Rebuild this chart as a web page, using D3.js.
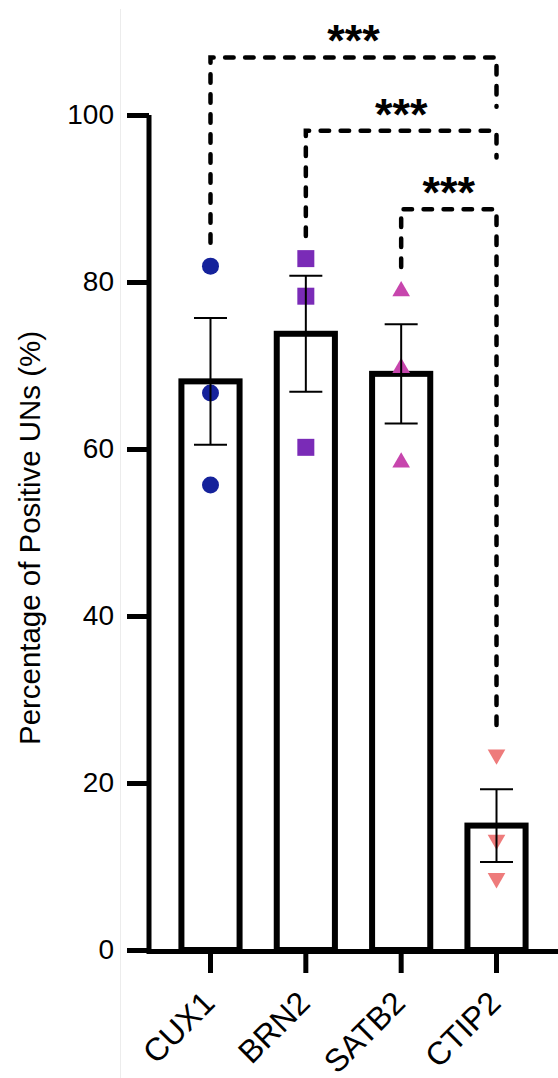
<!DOCTYPE html>
<html>
<head>
<meta charset="utf-8">
<script src="https://cdn.jsdelivr.net/npm/d3@7"></script>
<style>
  body { margin: 0; background: #fff; }
  text { font-family: "Liberation Sans", Arial, sans-serif; }
</style>
</head>
<body>
<div id="chart"></div>
<script>
// values
var groups = ["CUX1", "BRN2", "SATB2", "CTIP2"];
var means = [68.1, 73.8, 69.0, 14.9];
var sems = [7.6, 6.95, 5.95, 4.35];
var cux1Pts = [81.9, 66.7, 55.7];
var brn2Pts = [82.8, 78.3, 60.2];
var satb2Pts = [78.9, 69.7, 58.4];
var ctip2Pts = [23.4, 13.2, 8.6];
var yTicks = [0, 20, 40, 60, 80, 100];

// significance brackets
var bracketFrom = ["CUX1", "BRN2", "SATB2"];
var bracketTo = ["CTIP2", "CTIP2", "CTIP2"];
var bracketLevel = [106.9, 98.1, 88.7];
var bracketLeftEnd = [84.7, 85.5, 81.8];
var bracketRightEnd = [101, 94.9, 26.1];
var bracketLabels = ["***", "***", "***"];

var W = 558, H = 1078;
var pts = [cux1Pts, brn2Pts, satb2Pts, ctip2Pts];
var colors = ["#15229b", "#7a2bb7", "#c745ad", "#ee7b7b"];
var shapes = [d3.symbolCircle, d3.symbolSquare, d3.symbolTriangle, d3.symbolTriangle];
var sizes = [227, 289, 135, 135];
var rot = [0, 0, 0, 180];

var svg = d3.select("#chart").append("svg")
  .attr("width", W).attr("height", H);

svg.append("rect").attr("width", W).attr("height", H).attr("fill", "#fff");

// faint frame line on the left
svg.append("line")
  .attr("x1", 120.5).attr("x2", 120.5).attr("y1", 9).attr("y2", H)
  .attr("stroke", "#ececec").attr("stroke-width", 1);

var y = d3.scaleLinear().domain([0, 100]).range([950, 115]);
var x = d3.scaleBand().domain(groups).range([149, 558])
  .paddingInner(0.39).paddingOuter(0.34);
var cx = function(g) { return x(g) + x.bandwidth() / 2; };

// bars
svg.selectAll(".bar").data(groups).enter().append("rect")
  .attr("class", "bar")
  .attr("x", function(d) { return x(d); })
  .attr("y", function(d, i) { return y(means[i]); })
  .attr("width", x.bandwidth())
  .attr("height", function(d, i) { return y(0) - y(means[i]); })
  .attr("fill", "#fff")
  .attr("stroke", "#000")
  .attr("stroke-width", 6);

// points
groups.forEach(function(g, i) {
  svg.selectAll(".pt" + i).data(pts[i]).enter().append("path")
    .attr("class", "pt" + i)
    .attr("d", d3.symbol().type(shapes[i]).size(sizes[i]))
    .attr("transform", function(v) {
      return "translate(" + cx(g) + "," + y(v) + ") rotate(" + rot[i] + ")";
    })
    .attr("fill", colors[i]);
});

// error bars (SEM)
var eb = svg.selectAll(".eb").data(groups).enter().append("g")
  .attr("class", "eb")
  .attr("stroke", "#000").attr("stroke-width", 2);
eb.append("line")
  .attr("x1", cx).attr("x2", cx)
  .attr("y1", function(d, i) { return y(means[i] + sems[i]); })
  .attr("y2", function(d, i) { return y(means[i] - sems[i]); });
[1, -1].forEach(function(s) {
  eb.append("line")
    .attr("x1", function(d) { return cx(d) - 16.5; })
    .attr("x2", function(d) { return cx(d) + 16.5; })
    .attr("y1", function(d, i) { return y(means[i] + s * sems[i]); })
    .attr("y2", function(d, i) { return y(means[i] + s * sems[i]); });
});

// y axis
var yAxis = svg.append("g")
  .attr("transform", "translate(149,0)")
  .call(d3.axisLeft(y).tickValues(yTicks).tickSize(22).tickSizeOuter(0).tickPadding(13));
yAxis.select(".domain").attr("stroke-width", 5).attr("d", "M0,115V954");
yAxis.selectAll(".tick line").attr("stroke-width", 5);
yAxis.selectAll(".tick text").attr("font-size", 28).attr("fill", "#000")
  .attr("font-family", "Liberation Sans, Arial, sans-serif");

// x axis
var xAxis = svg.append("g")
  .attr("transform", "translate(0,951)")
  .call(d3.axisBottom(x).tickSize(22).tickSizeOuter(0));
xAxis.select(".domain").attr("stroke-width", 5);
xAxis.selectAll(".tick line").attr("stroke-width", 5);
xAxis.selectAll(".tick text")
  .attr("font-size", 32).attr("fill", "#000")
  .attr("font-family", "Liberation Sans, Arial, sans-serif")
  .attr("text-anchor", "end")
  .attr("dy", null)
  .attr("y", 0)
  .attr("transform", "translate(6,54) rotate(-45)");

// y label
svg.append("text")
  .attr("transform", "translate(40,538) rotate(-90)")
  .attr("text-anchor", "middle")
  .attr("font-size", 30)
  .attr("textLength", 414)
  .attr("lengthAdjust", "spacingAndGlyphs")
  .text("Percentage of Positive UNs (%)");

// significance brackets
bracketFrom.forEach(function(g, i) {
  var x1 = cx(g), x2 = cx(bracketTo[i]);
  var path = d3.path();
  path.moveTo(x1, y(bracketLeftEnd[i]));
  path.lineTo(x1, y(bracketLevel[i]));
  path.lineTo(x2, y(bracketLevel[i]));
  path.lineTo(x2, y(bracketRightEnd[i]));
  svg.append("path")
    .attr("d", path.toString())
    .attr("fill", "none")
    .attr("stroke", "#000")
    .attr("stroke-width", 4.5)
    .attr("stroke-linecap", "round")
    .attr("stroke-dasharray", "8.5,11.5");
  svg.append("text")
    .attr("x", (x1 + x2) / 2)
    .attr("y", y(bracketLevel[i]) - 1)
    .attr("text-anchor", "middle")
    .attr("font-size", 45)
    .attr("font-weight", "bold")
    .text(bracketLabels[i]);
});
</script>
</body>
</html>
